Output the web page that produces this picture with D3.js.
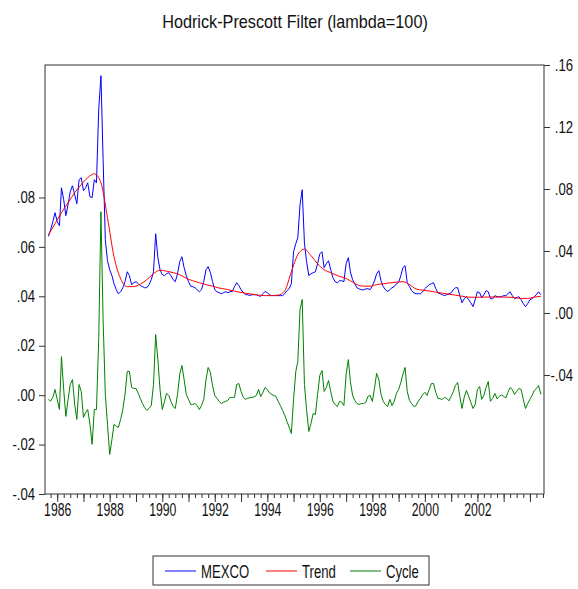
<!DOCTYPE html>
<html>
<head>
<meta charset="utf-8">
<script src="https://cdn.jsdelivr.net/npm/d3@7"></script>
<style>
  body { margin: 0; background: #fff; }
  svg text { font-family: "Liberation Sans", Arial, sans-serif; fill: #111; }
</style>
</head>
<body>
<div id="chart"></div>
<script>
// monthly observations, the first one is Sep 1985
const startYear = 1985, startMonth = 8;

// MEXCO (right axis)
const mexco = [
  0.0494, 0.0537, 0.0589, 0.0647, 0.0589, 0.0563, 0.0808, 0.0731, 0.0628, 0.0699, 0.0782, 0.0821,
  0.0763, 0.0705, 0.0860, 0.0873, 0.0789, 0.0808, 0.0840, 0.0750, 0.0744, 0.0860, 0.0840, 0.1311,
  0.1531, 0.0989, 0.0473, 0.0337, 0.0279, 0.0241, 0.0189, 0.0150, 0.0124, 0.0137, 0.0163, 0.0202,
  0.0266, 0.0241, 0.0183, 0.0195, 0.0202, 0.0189, 0.0176, 0.0170, 0.0163, 0.0163, 0.0183, 0.0215,
  0.0266, 0.0511, 0.0357, 0.0279, 0.0247, 0.0241, 0.0253, 0.0260, 0.0241, 0.0215, 0.0202, 0.0253,
  0.0331, 0.0363, 0.0292, 0.0241, 0.0202, 0.0172, 0.0170, 0.0163, 0.0150, 0.0137, 0.0150, 0.0202,
  0.0279, 0.0299, 0.0260, 0.0202, 0.0150, 0.0137, 0.0131, 0.0124, 0.0131, 0.0137, 0.0131, 0.0137,
  0.0139, 0.0170, 0.0195, 0.0176, 0.0150, 0.0131, 0.0118, 0.0118, 0.0112, 0.0118, 0.0118, 0.0118,
  0.0112, 0.0107, 0.0124, 0.0139, 0.0131, 0.0118, 0.0112, 0.0112, 0.0112, 0.0112, 0.0112, 0.0112,
  0.0124, 0.0144, 0.0157, 0.0189, 0.0395, 0.0447, 0.0486, 0.0699, 0.0795, 0.0453, 0.0331, 0.0241,
  0.0253, 0.0260, 0.0266, 0.0318, 0.0382, 0.0395, 0.0292, 0.0318, 0.0337, 0.0279, 0.0228, 0.0202,
  0.0195, 0.0208, 0.0208, 0.0202, 0.0318, 0.0357, 0.0266, 0.0215, 0.0189, 0.0163, 0.0155, 0.0150,
  0.0150, 0.0155, 0.0157, 0.0150, 0.0176, 0.0208, 0.0253, 0.0273, 0.0208, 0.0170, 0.0150, 0.0139,
  0.0150, 0.0163, 0.0170, 0.0189, 0.0197, 0.0241, 0.0292, 0.0305, 0.0195, 0.0170, 0.0144, 0.0129,
  0.0124, 0.0124, 0.0124, 0.0137, 0.0157, 0.0170, 0.0183, 0.0189, 0.0195, 0.0157, 0.0129, 0.0124,
  0.0118, 0.0112, 0.0118, 0.0124, 0.0131, 0.0150, 0.0163, 0.0163, 0.0112, 0.0066, 0.0092, 0.0105,
  0.0086, 0.0066, 0.0041, 0.0086, 0.0137, 0.0131, 0.0099, 0.0118, 0.0144, 0.0137, 0.0092, 0.0092,
  0.0112, 0.0105, 0.0105, 0.0105, 0.0112, 0.0112, 0.0124, 0.0137, 0.0112, 0.0092, 0.0099, 0.0105,
  0.0086, 0.0060, 0.0041, 0.0060, 0.0086, 0.0092, 0.0105, 0.0118, 0.0137, 0.0118
];

// Cycle (left axis)
const cycle = [
  -0.0017, -0.0024, -0.0009, 0.0023, -0.0017, -0.0058, 0.0156, 0.0023, -0.0086, -0.0017, 0.0043, 0.0063,
  -0.0038, -0.0098, 0.0043, 0.0015, -0.0090, -0.0070, -0.0058, -0.0118, -0.0199, -0.0058, -0.0058, 0.0225,
  0.0742, 0.0306, 0.0003, -0.0118, -0.0240, -0.0179, -0.0118, -0.0126, -0.0130, -0.0098, -0.0058, 0.0003,
  0.0096, 0.0096, 0.0031, 0.0027, 0.0027, 0.0007, -0.0013, -0.0034, -0.0050, -0.0062, -0.0054, -0.0042,
  0.0043, 0.0245, 0.0144, 0.0023, -0.0058, -0.0025, 0.0007, -0.0001, -0.0025, -0.0046, -0.0054, 0.0003,
  0.0084, 0.0120, 0.0063, 0.0003, -0.0017, -0.0038, -0.0038, -0.0034, -0.0042, -0.0058, -0.0042, -0.0017,
  0.0063, 0.0112, 0.0092, 0.0039, -0.0001, -0.0013, -0.0025, -0.0034, -0.0029, -0.0025, -0.0021, -0.0009,
  -0.0009, -0.0009, 0.0043, 0.0047, 0.0015, -0.0009, -0.0017, -0.0013, -0.0011, -0.0009, -0.0007, -0.0001,
  0.0023, -0.0006, 0.0011, 0.0031, 0.0023, 0.0009, 0.0003, -0.0001, -0.0005, -0.0025, -0.0042, -0.0062,
  -0.0082, -0.0106, -0.0130, -0.0155, -0.0017, 0.0096, 0.0136, 0.0346, 0.0387, 0.0043, -0.0058, -0.0147,
  -0.0114, -0.0074, -0.0078, 0.0003, 0.0080, 0.0100, 0.0015, 0.0031, 0.0059, 0.0015, -0.0025, -0.0038,
  -0.0046, -0.0025, -0.0029, -0.0042, 0.0084, 0.0144, 0.0055, -0.0001, -0.0021, -0.0034, -0.0038, -0.0034,
  -0.0034, -0.0029, -0.0005, -0.0001, -0.0025, 0.0031, 0.0088, 0.0063, 0.0003, -0.0025, -0.0038, -0.0046,
  -0.0017, -0.0042, -0.0025, 0.0007, 0.0023, 0.0051, 0.0084, 0.0112, 0.0015, -0.0021, -0.0034, -0.0046,
  -0.0042, -0.0025, -0.0013, 0.0003, 0.0011, -0.0001, 0.0023, 0.0047, 0.0047, 0.0011, -0.0013, -0.0015,
  -0.0017, -0.0009, -0.0013, -0.0023, -0.0005, 0.0015, 0.0039, 0.0051, -0.0005, -0.0054, -0.0009, 0.0019,
  -0.0005, -0.0029, -0.0054, -0.0038, 0.0023, 0.0035, -0.0017, -0.0001, 0.0031, 0.0055, -0.0025, -0.0013,
  0.0007, -0.0015, -0.0005, 0.0001, -0.0005, -0.0011, 0.0011, 0.0031, 0.0023, 0.0003, 0.0015, 0.0027,
  0.0023, -0.0017, -0.0054, -0.0034, -0.0017, -0.0001, 0.0019, 0.0027, 0.0039, 0.0003
];

// Trend (right axis), read every third month
const trend = [
  0.0505, 0.0576, 0.0647, 0.0711, 0.0776, 0.0828, 0.0873, 0.0898, 0.0840, 0.0615, 0.0363, 0.0221,
  0.0170, 0.0170, 0.0186, 0.0215, 0.0253, 0.0276, 0.0270, 0.0260, 0.0247, 0.0224, 0.0208, 0.0195,
  0.0183, 0.0173, 0.0161, 0.0154, 0.0144, 0.0135, 0.0128, 0.0121, 0.0115, 0.0112, 0.0112, 0.0115,
  0.0144, 0.0266, 0.0376, 0.0412, 0.0370, 0.0318, 0.0279, 0.0260, 0.0241, 0.0228, 0.0208, 0.0183,
  0.0173, 0.0173, 0.0183, 0.0189, 0.0194, 0.0199, 0.0202, 0.0183, 0.0155, 0.0147, 0.0142, 0.0134,
  0.0128, 0.0121, 0.0115, 0.0108, 0.0102, 0.0101, 0.0102, 0.0103, 0.0103, 0.0103, 0.0102, 0.0099,
  0.0094, 0.0094, 0.0102, 0.0108
];

const leftTicks = [-0.04, -0.02, 0, 0.02, 0.04, 0.06, 0.08];
const rightTicks = [-0.04, 0, 0.04, 0.08, 0.12, 0.16];
const yearLabels = [1986, 1988, 1990, 1992, 1994, 1996, 1998, 2000, 2002];
const seriesNames = ["MEXCO", "Trend", "Cycle"];
const seriesColors = ["#0000ff", "#ff0000", "#008000"];
const title = "Hodrick-Prescott Filter (lambda=100)";

let W = 578, H = 589;
let margin = { top: 65, right: 34, bottom: 95, left: 45 };
let width = W - margin.left - margin.right;
let height = H - margin.top - margin.bottom;

let svgRoot = d3.select("#chart").append("svg")
  .attr("width", W)
  .attr("height", H);

let svg = svgRoot.append("g")
  .attr("transform", "translate(" + margin.left + "," + margin.top + ")");

let x = d3.scaleTime()
  .domain([new Date(1985, 6, 15), new Date(2004, 6, 15)])
  .range([0, width]);
let yL = d3.scaleLinear().domain([-0.04, 0.1336]).range([height, 0]);
let yR = d3.scaleLinear().domain([-0.1168, 0.16]).range([height, 0]);

let fmt = d => (d < 0 ? "-" : "") + Math.abs(d).toFixed(2).slice(1);

// squeeze labels horizontally, text looks narrow in the original
function squeeze(sel, sx) {
  sel.each(function () {
    let t = d3.select(this);
    let tx = +t.attr("x") || 0;
    t.attr("x", tx / sx).attr("transform", "scale(" + sx + ",1)");
  });
}

let monthly = mexco.map((v, i) => ({ date: new Date(startYear, startMonth + i, 1), value: v }));
let cyc = cycle.map((v, i) => ({ date: new Date(startYear, startMonth + i, 1), value: v }));
let trd = trend.map((v, i) => ({ date: new Date(startYear, startMonth + 3 * i, 1), value: v }));

// axes
let minorX = d3.axisBottom(x)
  .ticks(d3.timeMonth.every(3))
  .tickSize(4)
  .tickFormat("");
svg.append("g").attr("class", "minor")
  .attr("transform", "translate(0," + height + ")")
  .call(minorX);

let majorX = d3.axisBottom(x)
  .ticks(d3.timeYear.every(1))
  .tickSize(8)
  .tickFormat(d => yearLabels.includes(d.getFullYear()) ? d.getFullYear() : "");
let gx = svg.append("g").attr("class", "major")
  .attr("transform", "translate(0," + height + ")")
  .call(majorX);
gx.selectAll(".tick text").attr("y", 22).attr("dy", null).style("font-size", "18px");
squeeze(gx.selectAll(".tick text"), 0.68);

let gl = svg.append("g")
  .call(d3.axisLeft(yL).tickValues(leftTicks).tickFormat(fmt).tickSize(6).tickSizeOuter(0));
gl.selectAll(".tick text").attr("x", -10).style("font-size", "16px");
squeeze(gl.selectAll(".tick text"), 0.82);

let gr = svg.append("g")
  .attr("transform", "translate(" + width + ",0)")
  .call(d3.axisRight(yR).tickValues(rightTicks).tickFormat(fmt).tickSize(6).tickSizeOuter(0));
gr.selectAll(".tick text").attr("x", 29).attr("text-anchor", "end").style("font-size", "16px");
squeeze(gr.selectAll(".tick text"), 0.82);

svg.selectAll(".domain").remove();
svg.selectAll(".tick line").attr("stroke", "#333");

// frame
svg.append("rect")
  .attr("width", width)
  .attr("height", height)
  .attr("fill", "none")
  .attr("stroke", "#333");

svg.append("clipPath").attr("id", "plotclip")
  .append("rect").attr("width", width).attr("height", height);

let plot = svg.append("g").attr("clip-path", "url(#plotclip)");

let lineR = d3.line().x(d => x(d.date)).y(d => yR(d.value));
let lineL = d3.line().x(d => x(d.date)).y(d => yL(d.value));

plot.append("path").datum(monthly)
  .attr("d", lineR)
  .attr("fill", "none").attr("stroke", seriesColors[0]).attr("stroke-width", 1);

plot.append("path").datum(trd)
  .attr("d", lineR.curve(d3.curveMonotoneX))
  .attr("fill", "none").attr("stroke", seriesColors[1]).attr("stroke-width", 1);

plot.append("path").datum(cyc)
  .attr("d", lineL)
  .attr("fill", "none").attr("stroke", seriesColors[2]).attr("stroke-width", 1);

// title, fit to the width seen in the picture
let tt = svgRoot.append("text")
  .attr("x", 295)
  .attr("y", 28)
  .attr("text-anchor", "middle")
  .style("font-size", "19px")
  .text(title);
let tw = tt.node().getComputedTextLength();
squeeze(tt, 266 / tw);

// legend
let legend = svgRoot.append("g").attr("transform", "translate(153,556)");
legend.append("rect")
  .attr("width", 276)
  .attr("height", 29)
  .attr("fill", "#fff")
  .attr("stroke", "#333");

let legX = [12, 113, 197];
seriesNames.forEach(function (name, i) {
  legend.append("line")
    .attr("x1", legX[i]).attr("x2", legX[i] + 31)
    .attr("y1", 15).attr("y2", 15)
    .attr("stroke", seriesColors[i]);
  let t = legend.append("text")
    .attr("x", legX[i] + 36)
    .attr("y", 22)
    .style("font-size", "18px")
    .text(name);
  squeeze(t, 0.73);
});
</script>
</body>
</html>
